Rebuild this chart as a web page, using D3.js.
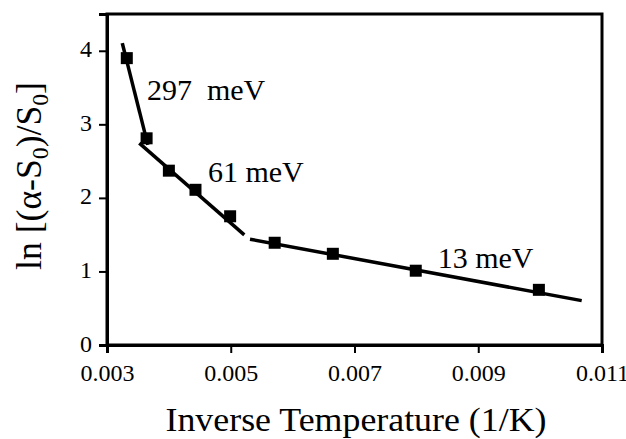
<!DOCTYPE html>
<html lang="en">
<head>
    <meta charset="UTF-8">
    <title>Arrhenius plot</title>
    <script src="https://d3js.org/d3.v7.min.js"></script>
    <style>
        body { margin: 0; padding: 0; background: #fff; }
        svg text { font-family: "Liberation Serif", "Times New Roman", serif; fill: #000; }
    </style>
</head>
<body>
    <div id="chart"></div>
    <script>
        // measured points: 1/T (1/K) and ln[(a-S0)/S0]
        const invTemp = [0.00332, 0.00364, 0.00400, 0.00443, 0.00499, 0.00571, 0.00665, 0.00799, 0.00998];
        const lnValue = [3.90, 2.81, 2.37, 2.11, 1.75, 1.39, 1.24, 1.01, 0.75];

        // fitted segments (start / end in data units)
        const fitX = [[0.003247, 0.00366], [0.003522, 0.005219], [0.005311, 0.010672]];
        const fitY = [[4.105, 2.72], [2.744, 1.497], [1.438, 0.603]];

        const labelText = ["297  meV", "61 meV", "13 meV"];
        const labelX = [0.003646, 0.004632, 0.008345];
        const labelY = [3.333, 2.218, 1.048];

        const xTicks = [0.003, 0.005, 0.007, 0.009, 0.011];
        const yTicks = [0, 1, 2, 3, 4];

        const width = 626, height = 439;
        const margin = { top: 14, right: 24, bottom: 94, left: 107 };

        const svg = d3.select("#chart").append("svg")
            .attr("width", width)
            .attr("height", height);

        const x = d3.scaleLinear().domain([0.003, 0.011]).range([margin.left, width - margin.right]);
        const y = d3.scaleLinear().domain([0, 4.5]).range([height - margin.bottom, margin.top]);

        // frame
        svg.append("rect")
            .attr("x", margin.left)
            .attr("y", margin.top)
            .attr("width", width - margin.left - margin.right)
            .attr("height", height - margin.top - margin.bottom)
            .attr("fill", "none")
            .attr("stroke", "#000")
            .attr("stroke-width", 3);

        const xAxis = svg.append("g")
            .attr("transform", `translate(0,${height - margin.bottom})`)
            .call(d3.axisBottom(x).tickValues(xTicks).tickFormat(d3.format(".3f")).tickSize(8).tickPadding(11));

        const yAxis = svg.append("g")
            .attr("transform", `translate(${margin.left},0)`)
            .call(d3.axisLeft(y).tickValues(yTicks).tickFormat(d3.format("d")).tickSize(8).tickPadding(7));

        [xAxis, yAxis].forEach(g => {
            g.attr("font-family", null);
            g.select(".domain").attr("stroke-width", 3);
            g.selectAll(".tick line").attr("stroke-width", 2);
            g.selectAll(".tick text").attr("fill", "#000").attr("font-size", 24);
        });
        yAxis.selectAll(".tick text").attr("dy", "0.25em");

        // fit lines
        svg.append("g")
            .selectAll("line")
            .data(d3.range(fitX.length))
            .join("line")
            .attr("x1", i => x(fitX[i][0]))
            .attr("y1", i => y(fitY[i][0]))
            .attr("x2", i => x(fitX[i][1]))
            .attr("y2", i => y(fitY[i][1]))
            .attr("stroke", "#000")
            .attr("stroke-width", 3.5);

        // markers
        const s = 12;
        svg.append("g")
            .selectAll("rect")
            .data(d3.range(invTemp.length))
            .join("rect")
            .attr("x", i => x(invTemp[i]) - s / 2)
            .attr("y", i => y(lnValue[i]) - s / 2)
            .attr("width", s)
            .attr("height", s)
            .attr("fill", "#000");

        // energy labels
        svg.append("g")
            .selectAll("text")
            .data(d3.range(labelText.length))
            .join("text")
            .attr("x", i => x(labelX[i]))
            .attr("y", i => y(labelY[i]))
            .attr("font-size", 30)
            .style("white-space", "pre")
            .text(i => labelText[i]);

        // axis titles
        svg.append("text")
            .attr("x", 356)
            .attr("y", 431)
            .attr("text-anchor", "middle")
            .attr("font-size", 34)
            .attr("textLength", 381)
            .attr("lengthAdjust", "spacingAndGlyphs")
            .text("Inverse Temperature (1/K)");

        const yt = svg.append("text")
            .attr("transform", "translate(41,176) rotate(-90)")
            .attr("text-anchor", "middle")
            .attr("font-size", 36)
            .attr("textLength", 188)
            .attr("lengthAdjust", "spacingAndGlyphs");
        yt.append("tspan").text("ln [(α-S");
        yt.append("tspan").attr("font-size", 24).attr("dy", 7).text("0");
        yt.append("tspan").attr("dy", -7).text(")/S");
        yt.append("tspan").attr("font-size", 24).attr("dy", 7).text("0");
        yt.append("tspan").attr("dy", -7).text("]");
    </script>
</body>
</html>
